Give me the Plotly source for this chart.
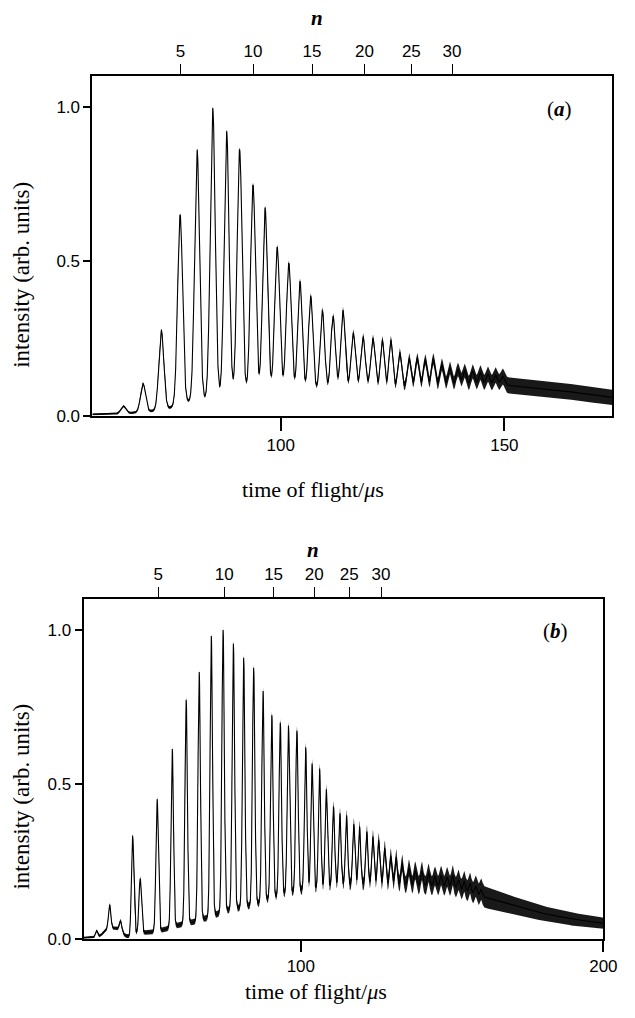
import numpy as np
import plotly.graph_objects as go

W, H = 635, 1018

# ---------------- Panel (a) data ----------------
a_xrange = [57.9, 174.1]
a_peak_t = [64.8, 69.2, 73.3, 77.5, 81.3, 84.8, 87.9, 90.8, 93.8, 96.5, 99.2, 101.8,
            104.3, 106.7, 109.3, 111.7, 113.9, 116.2, 118.4, 120.6, 122.7, 124.6, 126.6,
            128.7, 130.5, 132.3, 134.1, 136.0, 137.8, 139.6, 141.1, 142.9, 144.6, 146.3,
            148.0, 149.6]
a_peak_h = [0.032, 0.105, 0.278, 0.652, 0.862, 0.996, 0.922, 0.863, 0.748, 0.673, 0.547,
            0.495, 0.436, 0.388, 0.342, 0.323, 0.342, 0.269, 0.256, 0.251, 0.246, 0.246,
            0.205, 0.187, 0.187, 0.182, 0.184, 0.166, 0.155, 0.150, 0.146, 0.144, 0.14,
            0.135, 0.132, 0.128]
a_peak_w = [0.55] * 12 + [0.5] * 8 + [0.42] * 16
a_base_t = [57.9, 63, 67, 71, 75, 79, 84, 90, 100, 110, 120, 130, 140, 150, 160, 174.1]
a_base_v = [0.005, 0.006, 0.01, 0.015, 0.025, 0.045, 0.055, 0.072, 0.078, 0.08, 0.085,
            0.09, 0.097, 0.1, 0.087, 0.06]
a_noise_t = [57.9, 80, 100, 120, 130, 140, 150, 174.1]
a_noise_w = [0.003, 0.005, 0.007, 0.011, 0.016, 0.022, 0.026, 0.025]
a_n_labels = ["5", "10", "15", "20", "25", "30"]
a_n_tof = [77.6, 93.8, 107.0, 118.7, 129.2, 138.3]
a_xticks = [100, 150]

# ---------------- Panel (b) data ----------------
b_xrange = [28.2, 200]
b_peak_t = [32.5, 36.8, 40.4, 44.4, 46.9, 52.5, 57.5, 62.1, 66.4, 70.4, 74.3, 77.7, 81.1,
            84.4, 87.5, 90.4, 93.2, 95.9, 98.7, 101.6, 103.7, 106.2, 108.4, 110.8, 112.9,
            115.1, 117.5, 119.4, 121.8, 123.8, 125.7, 127.7, 129.7, 131.5, 133.5, 135.7,
            137.8, 140.0, 142.2, 144.3, 146.3, 148.3, 150.2, 152.1, 154.0, 155.9, 157.8,
            159.6]
b_peak_h = [0.026, 0.11, 0.058, 0.334, 0.195, 0.452, 0.615, 0.774, 0.864, 0.98, 1.0, 0.956,
            0.91, 0.878, 0.803, 0.724, 0.70, 0.69, 0.674, 0.62, 0.567, 0.551, 0.484, 0.428,
            0.406, 0.40, 0.371, 0.363, 0.347, 0.331, 0.32, 0.294, 0.267, 0.264, 0.245, 0.229,
            0.221, 0.219, 0.213, 0.203, 0.205, 0.2, 0.205, 0.19, 0.185, 0.18, 0.17, 0.16]
b_peak_w = [0.4] * 20 + [0.38] * 28
b_base_t = [28.2, 33, 36, 39, 42, 43.5, 46, 50, 55, 60, 65, 70, 75, 80, 85, 90, 95, 100,
            110, 120, 130, 140, 150, 160, 170, 180, 190, 200]
b_base_v = [0.003, 0.004, 0.03, 0.035, 0.01, 0.005, 0.02, 0.02, 0.03, 0.045, 0.055, 0.07,
            0.09, 0.1, 0.11, 0.13, 0.145, 0.155, 0.17, 0.175, 0.175, 0.172, 0.168, 0.137,
            0.108, 0.082, 0.063, 0.05]
b_noise_t = [28.2, 45, 60, 90, 120, 140, 160, 180, 200]
b_noise_w = [0.003, 0.007, 0.009, 0.012, 0.02, 0.03, 0.035, 0.024, 0.018]
b_n_labels = ["5", "10", "15", "20", "25", "30"]
b_n_tof = [52.9, 74.7, 91.0, 104.4, 116.0, 126.5]
b_xticks = [100, 200]

y_ticks = [0.0, 0.5, 1.0]
y_ticktext = ["0.0", "0.5", "1.0"]


def build_trace(xr, pt, ph, pw, bt, bv, nt, nw):
    t = np.linspace(xr[0], xr[1], 5000)
    base = np.interp(t, bt, bv)
    y = base.copy()
    for c, h, s in zip(pt, ph, pw):
        amp = max(h - np.interp(c, bt, bv), 0)
        y += amp * np.exp(-(t - c) ** 2 / (2 * s * s))
    w = np.interp(t, nt, nw)
    return t, y, w


fig = go.Figure()

SANS = "Liberation Sans, Arial, sans-serif"
SERIF = "Liberation Serif, Times New Roman, serif"


def px_x(p):
    return p / W


def px_y(p):
    return 1 - p / H


panels = [
    dict(xr=a_xrange, pt=a_peak_t, ph=a_peak_h, pw=a_peak_w, bt=a_base_t, bv=a_base_v,
         nt=a_noise_t, nw=a_noise_w, nlab=a_n_labels, ntof=a_n_tof, xt=a_xticks,
         xdom=[px_x(94.5), px_x(626)], ydom=[px_y(420), px_y(77)],
         xa="x", ya="y", xtop="x3", blen=13),
    dict(xr=b_xrange, pt=b_peak_t, ph=b_peak_h, pw=b_peak_w, bt=b_base_t, bv=b_base_v,
         nt=b_noise_t, nw=b_noise_w, nlab=b_n_labels, ntof=b_n_tof, xt=b_xticks,
         xdom=[px_x(85.5), px_x(617)], ydom=[px_y(948), px_y(605)],
         xa="x2", ya="y2", xtop="x4", blen=11),
]

for p in panels:
    t, y, w = build_trace(p["xr"], p["pt"], p["ph"], p["pw"], p["bt"], p["bv"], p["nt"], p["nw"])
    fig.add_trace(go.Scatter(x=t, y=y - w, mode="lines", line=dict(width=0, color="black"),
                             xaxis=p["xa"], yaxis=p["ya"], showlegend=False, hoverinfo="skip"))
    fig.add_trace(go.Scatter(x=t, y=y + w, mode="lines", line=dict(width=0, color="black"),
                             fill="tonexty", fillcolor="rgba(0,0,0,0.9)",
                             xaxis=p["xa"], yaxis=p["ya"], showlegend=False, hoverinfo="skip"))
    fig.add_trace(go.Scatter(x=t, y=y, mode="lines", line=dict(width=1.1, color="black"),
                             xaxis=p["xa"], yaxis=p["ya"], showlegend=False))
    # invisible trace so the top n-axis is drawn
    fig.add_trace(go.Scatter(x=p["ntof"], y=[0] * len(p["ntof"]), mode="markers",
                             marker=dict(size=0.1, opacity=0), xaxis=p["xtop"],
                             yaxis=p["ya"], showlegend=False, hoverinfo="skip"))

axis_common = dict(showgrid=False, zeroline=False, showline=True, linecolor="black",
                   linewidth=2, ticks="outside", tickcolor="black", tickwidth=1.5,
                   tickfont=dict(family=SANS, size=17, color="black"))

layout = dict(
    width=W, height=H, margin=dict(l=0, r=0, t=0, b=0),
    paper_bgcolor="white", plot_bgcolor="white", showlegend=False,
)

for i, p in enumerate(panels):
    xk = "xaxis" if i == 0 else "xaxis2"
    yk = "yaxis" if i == 0 else "yaxis2"
    tk = "xaxis3" if i == 0 else "xaxis4"
    layout[xk] = dict(axis_common, domain=p["xdom"], range=p["xr"], anchor=p["ya"],
                      tickvals=p["xt"], ticktext=[str(v) for v in p["xt"]],
                      ticklen=p["blen"], mirror=True)
    layout[yk] = dict(axis_common, domain=p["ydom"], range=[0, 1.1], anchor=p["xa"],
                      tickvals=y_ticks, ticktext=y_ticktext, ticklen=7, mirror=True)
    layout[tk] = dict(axis_common, overlaying=p["xa"], side="top", anchor=p["ya"],
                      range=p["xr"], tickvals=p["ntof"], ticktext=p["nlab"], ticklen=11,
                      tickwidth=1.2, showline=False)

fig.update_layout(**layout)

ann = []
for cx, cy in [(320, 494), (323, 1001)]:
    ann.append(dict(x=px_x(cx), y=px_y(cy), xref="paper", yref="paper", showarrow=False,
                    text="time of flight/<i>μ</i>s", xanchor="center", yanchor="middle",
                    font=dict(family=SERIF, size=22, color="black")))
for cy in [278, 805]:
    ann.append(dict(x=px_x(22), y=px_y(cy), xref="paper", yref="paper", showarrow=False,
                    text="intensity (arb. units)", textangle=-90, xanchor="center",
                    yanchor="middle", font=dict(family=SERIF, size=23, color="black")))
for cx, cy in [(324, 18), (320, 555)]:
    ann.append(dict(x=px_x(cx), y=px_y(cy), xref="paper", yref="paper", showarrow=False,
                    text="<b><i>n</i></b>", xanchor="center", yanchor="middle",
                    font=dict(family=SERIF, size=21, color="black")))
for lab, cx, cy in [("a", 572, 110), ("b", 568, 637)]:
    ann.append(dict(x=px_x(cx), y=px_y(cy), xref="paper", yref="paper", showarrow=False,
                    text="(<b><i>%s</i></b>)" % lab, xanchor="center", yanchor="middle",
                    font=dict(family=SERIF, size=21, color="black")))
fig.update_layout(annotations=ann)

fig.write_html("out.html")
